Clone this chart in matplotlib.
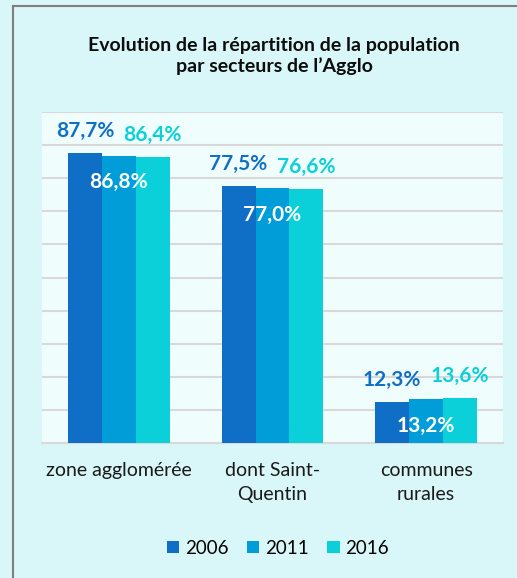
import matplotlib.pyplot as plt
from matplotlib.lines import Line2D
import numpy as np

# Data
categories = ['zone agglomérée', 'dont Saint-\nQuentin', 'communes\nrurales']
years = ['2006', '2011', '2016']
values_2006 = [87.7, 77.5, 12.3]
values_2011 = [86.8, 77.0, 13.2]
values_2016 = [86.4, 76.6, 13.6]

colors = ['#0f6fc6', '#009dd9', '#0bd0d9']

plt.rcParams['font.family'] = ['Lato', 'DejaVu Sans']

fig = plt.figure(figsize=(5.17, 5.78), dpi=100, facecolor='#d9f6f9')
ax = fig.add_axes([42 / 517, 1 - 443 / 578, 461 / 517, 331 / 578])
ax.set_facecolor('#f0fdfd')

# Outer frame (left and top only visible)
fig.add_artist(Line2D([13 / 517, 13 / 517], [0, 1 - 6 / 578], color='#7f7f7f', lw=1.5))
fig.add_artist(Line2D([13 / 517, 1.0], [1 - 6 / 578, 1 - 6 / 578], color='#7f7f7f', lw=1.5))

x = np.arange(len(categories))
w = 0.221
series = [values_2006, values_2011, values_2016]
for i, (vals, col, yr) in enumerate(zip(series, colors, years)):
    bars = ax.bar(x + (i - 1) * w, vals, w, color=col, label=yr, zorder=3)
    for b, v in zip(bars, vals):
        txt = f'{v:.1f}%'.replace('.', ',')
        cx = b.get_x() + b.get_width() / 2
        if i == 1:
            ax.annotate(txt, (cx, v), xytext=(0, -19), textcoords='offset points',
                        ha='center', va='center', color='white', fontsize=15,
                        fontweight='bold', zorder=5)
        else:
            ax.annotate(txt, (cx, v), xytext=(0, 16), textcoords='offset points',
                        ha='center', va='center', color=col, fontsize=15,
                        fontweight='bold', zorder=5)

ax.set_xlim(-0.5, 2.5)
ax.set_ylim(0, 100)
ax.set_yticks(np.arange(0, 101, 10))
ax.yaxis.grid(True, color='#d9d9d9', lw=1.5, zorder=0)
ax.tick_params(axis='y', left=False, labelleft=False)
ax.tick_params(axis='x', bottom=False, pad=10)
ax.set_xticks(x)
ax.set_xticklabels(categories, fontsize=14, color='#1a1a1a', linespacing=1.55)
for s in ['left', 'right', 'top']:
    ax.spines[s].set_visible(False)
ax.spines['bottom'].set_color('#d9d9d9')
ax.spines['bottom'].set_linewidth(1.5)

fig.text(274 / 517, 1 - 56 / 578, 'Evolution de la répartition de la population\npar secteurs de l\u2019Agglo',
         ha='center', va='center', fontsize=14, fontweight='bold', color='#0d0d0d', linespacing=1.25)

fig.legend(loc='center', bbox_to_anchor=(278 / 517, 1 - 548 / 578), ncol=3, frameon=False,
           fontsize=13.5, handlelength=0.65, handleheight=0.65, handletextpad=0.3, columnspacing=1.0)

fig.savefig('out.png', dpi=100, facecolor=fig.get_facecolor())
